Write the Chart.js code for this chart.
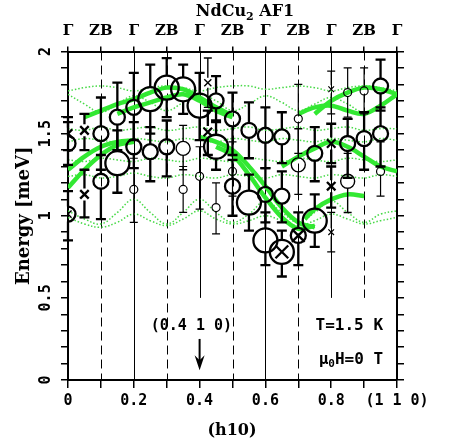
<!DOCTYPE html>
<html>
<head>
<meta charset="utf-8">
<script src="https://cdn.jsdelivr.net/npm/chart.js@4.4.1/dist/chart.umd.min.js"></script>
<style>
  html, body { margin: 0; padding: 0; background: #fff; }
</style>
</head>
<body>
<canvas id="c" width="460" height="447"></canvas>
<script>
// tick labels
const topLabels = ['Γ', 'ZB', 'Γ', 'ZB', 'Γ', 'ZB', 'Γ', 'ZB', 'Γ', 'ZB', 'Γ'];
const bottomLabels = ['0', '', '0.2', '', '0.4', '', '0.6', '', '0.8', '', '(1 1 0)'];
const yTickValues = [0, 0.5, 1, 1.5, 2];
const yTickLabels = ['0', '0.5', '1', '1.5', '2'];

// zone boundaries (Γ solid, ZB dashed); lineEnd = energy where the line stops
const vlineX = [0.1, 0.2, 0.3, 0.4, 0.5, 0.6, 0.7, 0.8, 0.9];
const vlineDashed = [true, false, true, false, true, false, true, false, true];
const vlineEnd = [0, 0, 0, 0.5, 0, 0, 0, 0.5, 0.5];

// measured modes, circles: level = intensity class 0..3
const circX = [0, 0, 0.1, 0.1, 0.15, 0.15, 0.2, 0.2, 0.2, 0.25, 0.25, 0.3, 0.3, 0.35, 0.35, 0.35,
  0.4, 0.4, 0.45, 0.45, 0.45, 0.5, 0.5, 0.5, 0.55, 0.55, 0.6, 0.6, 0.6, 0.65, 0.65, 0.65,
  0.7, 0.7, 0.7, 0.75, 0.75, 0.85, 0.85, 0.85, 0.9, 0.9, 0.95, 0.95, 0.95];
const circY = [1.44, 1.01, 1.50, 1.21, 1.60, 1.32, 1.66, 1.42, 1.16, 1.71, 1.39, 1.78, 1.42, 1.77, 1.41, 1.16,
  1.67, 1.24, 1.70, 1.42, 1.05, 1.59, 1.27, 1.18, 1.52, 1.08, 1.49, 1.13, 0.85, 1.48, 1.12, 0.78,
  1.59, 1.31, 0.88, 1.38, 0.97, 1.75, 1.44, 1.21, 1.76, 1.47, 1.79, 1.50, 1.27];
const circLo = [1.31, 0.85, 1.28, 0.98, 1.40, 1.14, 1.46, 1.29, 0.96, 1.50, 1.21, 1.60, 1.24, 1.62, 1.28, 1.02,
  1.46, 1.04, 1.58, 1.28, 0.89, 1.37, 1.12, 1.00, 1.35, 0.91, 1.29, 0.96, 0.70, 1.32, 0.96, 0.63,
  1.38, 1.13, 0.70, 1.21, 0.81, 1.60, 1.23, 1.02, 1.62, 1.28, 1.64, 1.30, 1.12];
const circHi = [1.57, 1.15, 1.72, 1.37, 1.81, 1.52, 1.87, 1.57, 1.35, 1.92, 1.54, 1.96, 1.58, 1.92, 1.55, 1.30,
  1.87, 1.42, 1.85, 1.57, 1.20, 1.75, 1.45, 1.34, 1.69, 1.25, 1.66, 1.29, 1.02, 1.63, 1.27, 0.91,
  1.80, 1.53, 1.02, 1.54, 1.13, 1.90, 1.59, 1.38, 1.90, 1.63, 1.95, 1.66, 1.45];
const circLevel = [2, 2, 2, 2, 2, 3, 2, 2, 0, 3, 2, 3, 2, 3, 1, 0,
  3, 0, 2, 3, 0, 2, 0, 2, 2, 3, 2, 2, 3, 2, 2, 3,
  0, 1, 2, 2, 3, 0, 2, 1, 0, 2, 2, 2, 0];

// measured modes, crosses
const crossX = [0, 0, 0.05, 0.05, 0.425, 0.425, 0.65, 0.7, 0.8, 0.8, 0.8, 0.8];
const crossY = [1.50, 1.01, 1.52, 1.13, 1.81, 1.51, 0.78, 0.88, 1.77, 1.44, 1.18, 0.90];
const crossLo = [1.40, 1.01, 1.40, 0.99, 1.66, 1.37, 0.78, 0.88, 1.62, 1.32, 1.05, 0.78];
const crossHi = [1.60, 1.01, 1.62, 1.28, 1.96, 1.64, 0.78, 0.88, 1.88, 1.56, 1.30, 1.02];
const crossLevel = [2, 1, 2, 2, 1, 2, 3, 3, 0, 2, 2, 0];

// calculated dispersion, weak branches (dotted)
const hFull = [0, 0.05, 0.1, 0.15, 0.2, 0.25, 0.3, 0.35, 0.4, 0.45, 0.5, 0.55, 0.6, 0.65, 0.7, 0.75, 0.8, 0.85, 0.9, 0.95, 1];
const weak1 = [1.76, 1.78, 1.79, 1.78, 1.76, 1.78, 1.79, 1.78, 1.76, 1.78, 1.79, 1.79, 1.77, 1.78, 1.79, 1.78, 1.76, 1.78, 1.79, 1.78, 1.76];
const weak2 = [1.74, 1.68, 1.63, 1.68, 1.73, 1.69, 1.64, 1.69, 1.74, 1.70, 1.64, 1.68, 1.73, 1.69, 1.64, 1.68, 1.72, 1.68, 1.63, 1.68, 1.74];
const weak3 = [1.53, 1.52, 1.54, 1.52, 1.53, 1.54, 1.52, 1.53, 1.54, 1.52, 1.53, 1.54, 1.52, 1.53, 1.54, 1.52, 1.53, 1.54, 1.52, 1.53, 1.53];
const weak4 = [1.45, 1.47, 1.46, 1.45, 1.47, 1.46, 1.45, 1.47, 1.46, 1.45, 1.47, 1.46, 1.45, 1.47, 1.46, 1.45, 1.47, 1.46, 1.45, 1.47, 1.46];
const weak5 = [1.34, 1.33, 1.35, 1.34, 1.33, 1.35, 1.34, 1.33, 1.35, 1.34, 1.33, 1.35, 1.34, 1.33, 1.35, 1.34, 1.33, 1.35, 1.34, 1.33, 1.34];
const weak6 = [1.24, 1.25, 1.23, 1.24, 1.26, 1.24, 1.23, 1.25, 1.24, 1.23, 1.25, 1.24, 1.23, 1.25, 1.24, 1.23, 1.25, 1.24, 1.23, 1.25, 1.24];
const weak7 = [1.03, 0.98, 0.95, 1.02, 1.10, 1.02, 0.95, 1.02, 1.10, 1.02, 0.96, 1.01, 1.09, 1.02, 0.96, 1.02, 1.09, 1.02, 0.96, 1.01, 1.03];
const weak8 = [0.99, 0.95, 0.93, 0.96, 1.01, 0.97, 0.94, 0.98, 1.03, 0.98, 0.95, 0.97, 1.00, 0.97, 0.94, 0.97, 1.01, 0.98, 0.95, 0.97, 0.99];

// calculated dispersion, strong branches (thick)
const s1X = [0.05, 0.1, 0.15, 0.2, 0.25, 0.3, 0.35, 0.4, 0.45, 0.5];
const s1Y = [1.60, 1.64, 1.68, 1.71, 1.75, 1.78, 1.77, 1.72, 1.66, 1.61];
const s2X = [0.15, 0.2, 0.25, 0.3, 0.35, 0.4, 0.45, 0.5];
const s2Y = [1.62, 1.66, 1.69, 1.72, 1.74, 1.70, 1.64, 1.60];
const s3X = [0, 0.05, 0.1, 0.15, 0.2];
const s3Y = [1.28, 1.36, 1.42, 1.45, 1.46];
const s4X = [0, 0.05, 0.1, 0.15, 0.2];
const s4Y = [1.17, 1.28, 1.37, 1.43, 1.45];
const s5X = [0.4, 0.45, 0.5, 0.55, 0.6, 0.65, 0.7, 0.75];
const s5Y = [1.48, 1.45, 1.40, 1.30, 1.18, 1.05, 0.96, 0.93];
const s6X = [0.45, 0.5, 0.55, 0.6, 0.65, 0.7, 0.75];
const s6Y = [1.42, 1.37, 1.25, 1.11, 0.99, 0.92, 0.94];
const s7X = [0.65, 0.7, 0.75, 0.8, 0.85, 0.9, 0.95, 1];
const s7Y = [1.30, 1.36, 1.41, 1.45, 1.42, 1.36, 1.30, 1.27];
const s8X = [0.72, 0.75, 0.8, 0.85, 0.9];
const s8Y = [0.98, 1.04, 1.10, 1.13, 1.12];
const s9X = [0.75, 0.8, 0.85, 0.9, 0.95, 1];
const s9Y = [1.62, 1.70, 1.75, 1.78, 1.77, 1.74];
const s10X = [0.7, 0.75, 0.8, 0.85, 0.9, 0.95, 1];
const s10Y = [1.62, 1.66, 1.67, 1.64, 1.62, 1.67, 1.74];

const GREEN = 'rgb(50,232,50)';
const SERIF = '"DejaVu Serif", serif';
const MONO = '"DejaVu Sans Mono", monospace';

const radiusOf = l => [4, 7, 7.5, 12][l];
const widthOf = l => [1.2, 1.4, 2.3, 2.3][l];
const crossRadiusOf = l => [4, 5, 6, 9][l];

function weak(ys) {
  return {
    type: 'line', data: hFull.map((x, i) => ({ x, y: ys[i] })),
    borderColor: 'rgba(60,215,60,0.95)', borderWidth: 1.5, borderDash: [1.5, 2],
    pointRadius: 0, tension: 0.4, fill: false, order: 3
  };
}
function strong(xs, ys) {
  return {
    type: 'line', data: xs.map((x, i) => ({ x, y: ys[i] })),
    borderColor: GREEN, borderWidth: 4.5, pointRadius: 0, tension: 0.35, fill: false, order: 2
  };
}

const datasets = [
  {
    type: 'scatter', data: circX.map((x, i) => ({ x, y: circY[i] })),
    pointStyle: 'circle', pointRadius: circLevel.map(radiusOf), pointBorderWidth: circLevel.map(widthOf),
    pointBackgroundColor: 'rgba(0,0,0,0)', pointBorderColor: '#000', order: 1
  },
  {
    type: 'scatter', data: crossX.map((x, i) => ({ x, y: crossY[i] })),
    pointStyle: 'crossRot', pointRadius: crossLevel.map(crossRadiusOf), pointBorderWidth: crossLevel.map(widthOf),
    pointBorderColor: '#000', order: 1
  },
  weak(weak1), weak(weak2), weak(weak3), weak(weak4), weak(weak5), weak(weak6), weak(weak7), weak(weak8),
  strong(s1X, s1Y), strong(s2X, s2Y), strong(s3X, s3Y), strong(s4X, s4Y), strong(s5X, s5Y),
  strong(s6X, s6Y), strong(s7X, s7Y), strong(s8X, s8Y), strong(s9X, s9Y), strong(s10X, s10Y)
];

function errorBars(ctx, sx, sy, xs, ys, lo, hi, lv, rOf) {
  for (let i = 0; i < xs.length; i++) {
    const px = sx.getPixelForValue(xs[i]);
    const py = sy.getPixelForValue(ys[i]);
    const r = rOf(lv[i]);
    const top = sy.getPixelForValue(hi[i]);
    const bot = sy.getPixelForValue(lo[i]);
    const cap = lv[i] >= 2 ? 5 : 4;
    ctx.lineWidth = widthOf(lv[i]);
    ctx.beginPath();
    if (top < py - r - 1) {
      ctx.moveTo(px, py - r); ctx.lineTo(px, top);
      ctx.moveTo(px - cap, top); ctx.lineTo(px + cap, top);
    }
    if (bot > py + r + 1) {
      ctx.moveTo(px, py + r); ctx.lineTo(px, bot);
      ctx.moveTo(px - cap, bot); ctx.lineTo(px + cap, bot);
    }
    ctx.stroke();
  }
}

const decor = {
  id: 'decor',
  beforeDatasetsDraw(chart) {
    const { ctx, chartArea: a, scales: { x, y } } = chart;
    ctx.save();
    ctx.strokeStyle = '#000';
    ctx.lineWidth = 1;
    vlineX.forEach((v, i) => {
      const px = Math.round(x.getPixelForValue(v)) + 0.5;
      ctx.setLineDash(vlineDashed[i] ? [9, 5] : []);
      ctx.beginPath();
      ctx.moveTo(px, a.top);
      ctx.lineTo(px, y.getPixelForValue(vlineEnd[i]));
      ctx.stroke();
    });
    ctx.restore();
  },
  afterDatasetsDraw(chart) {
    const { ctx, scales: { x, y } } = chart;
    ctx.save();
    ctx.strokeStyle = '#000';
    errorBars(ctx, x, y, circX, circY, circLo, circHi, circLevel, radiusOf);
    errorBars(ctx, x, y, crossX, crossY, crossLo, crossHi, crossLevel, crossRadiusOf);
    ctx.restore();
  },
  afterDraw(chart) {
    const { ctx, chartArea: a, scales: { x, y } } = chart;
    ctx.save();
    ctx.fillStyle = '#000';
    ctx.strokeStyle = '#000';
    ctx.textBaseline = 'middle';
    ctx.textAlign = 'center';

    // rotated y tick labels
    ctx.font = 'bold 15px ' + MONO;
    yTickValues.forEach((v, i) => {
      ctx.save();
      ctx.translate(a.left - 22, y.getPixelForValue(v));
      ctx.rotate(-Math.PI / 2);
      ctx.fillText(yTickLabels[i], 0, 0);
      ctx.restore();
    });

    // axis titles
    ctx.font = 'bold 18px ' + SERIF;
    ctx.save();
    ctx.translate(24, (a.top + a.bottom) / 2);
    ctx.rotate(-Math.PI / 2);
    ctx.fillText('Energy [meV]', 0, 0);
    ctx.restore();
    ctx.font = 'bold 16px ' + SERIF;
    ctx.fillText('(h10)', 232, 431);

    // title with subscript
    const parts = [['NdCu', 16, 0], ['2', 11, 5], [' AF1', 16, 0]];
    let w = 0;
    parts.forEach(p => { ctx.font = 'bold ' + p[1] + 'px ' + SERIF; w += ctx.measureText(p[0]).width; });
    let tx = 245 - w / 2;
    ctx.textAlign = 'left';
    parts.forEach(p => {
      ctx.font = 'bold ' + p[1] + 'px ' + SERIF;
      ctx.fillText(p[0], tx, 12 + p[2]);
      tx += ctx.measureText(p[0]).width;
    });

    // annotations
    ctx.textAlign = 'center';
    ctx.font = 'bold 15px ' + MONO;
    ctx.fillText('(0.4 1 0)', x.getPixelForValue(0.375), y.getPixelForValue(0.33));
    ctx.font = 'bold 16px ' + MONO;
    ctx.fillText('T=1.5 K', x.getPixelForValue(0.855), y.getPixelForValue(0.33));
    const mu = [['μ', 16, 0], ['0', 11, 5], ['H=0 T', 16, 0]];
    w = 0;
    mu.forEach(p => { ctx.font = 'bold ' + p[1] + 'px ' + MONO; w += ctx.measureText(p[0]).width; });
    tx = x.getPixelForValue(0.86) - w / 2;
    ctx.textAlign = 'left';
    mu.forEach(p => {
      ctx.font = 'bold ' + p[1] + 'px ' + MONO;
      ctx.fillText(p[0], tx, y.getPixelForValue(0.125) + p[2]);
      tx += ctx.measureText(p[0]).width;
    });

    // arrow at (0.4 1 0)
    const ax = x.getPixelForValue(0.4);
    const ay0 = y.getPixelForValue(0.25), ay1 = y.getPixelForValue(0.06);
    ctx.lineWidth = 2;
    ctx.beginPath();
    ctx.moveTo(ax, ay0); ctx.lineTo(ax, ay1 - 6);
    ctx.stroke();
    ctx.beginPath();
    ctx.moveTo(ax, ay1); ctx.lineTo(ax - 5, ay1 - 15); ctx.lineTo(ax, ay1 - 10); ctx.lineTo(ax + 5, ay1 - 15);
    ctx.closePath();
    ctx.fill();
    ctx.restore();
  }
};

const axisBorder = { display: true, color: '#000', width: 2 };

new Chart(document.getElementById('c'), {
  data: { datasets },
  options: {
    responsive: false,
    animation: false,
    layout: { padding: 0 },
    plugins: { legend: { display: false }, tooltip: { enabled: false } },
    scales: {
      x: {
        type: 'linear', position: 'bottom', min: 0, max: 1,
        afterFit: s => { s.height = 67; },
        border: axisBorder,
        grid: { drawOnChartArea: false, drawTicks: true, tickLength: 8, color: '#000', lineWidth: 1.5 },
        ticks: {
          stepSize: 0.1, autoSkip: false, maxRotation: 0, padding: 4, color: '#000',
          font: { family: 'DejaVu Sans Mono', size: 15, weight: 'bold' },
          callback: v => bottomLabels[Math.round(v * 10)] ?? ''
        }
      },
      x2: {
        type: 'linear', position: 'top', min: 0, max: 1,
        afterFit: s => { s.height = 51.5; },
        border: axisBorder,
        grid: { drawOnChartArea: false, drawTicks: true, tickLength: 5, color: '#000', lineWidth: 1.5 },
        ticks: {
          stepSize: 0.1, autoSkip: false, maxRotation: 0, padding: 6, color: '#000',
          font: { family: 'DejaVu Serif', size: 15, weight: 'bold' },
          callback: v => topLabels[Math.round(v * 10)] ?? ''
        }
      },
      y: {
        type: 'linear', position: 'left', min: 0, max: 2,
        afterFit: s => { s.width = 68; },
        border: axisBorder,
        grid: { drawOnChartArea: false, drawTicks: true, tickLength: 7, color: '#000', lineWidth: 1.5 },
        ticks: { stepSize: 0.1, autoSkip: false, callback: () => '' }
      },
      y2: {
        type: 'linear', position: 'right', min: 0, max: 2,
        afterFit: s => { s.width = 63; },
        border: axisBorder,
        grid: { drawOnChartArea: false, drawTicks: true, tickLength: 7, color: '#000', lineWidth: 1.5 },
        ticks: { stepSize: 0.1, autoSkip: false, callback: () => '' }
      }
    }
  },
  plugins: [decor]
});
</script>
</body>
</html>
